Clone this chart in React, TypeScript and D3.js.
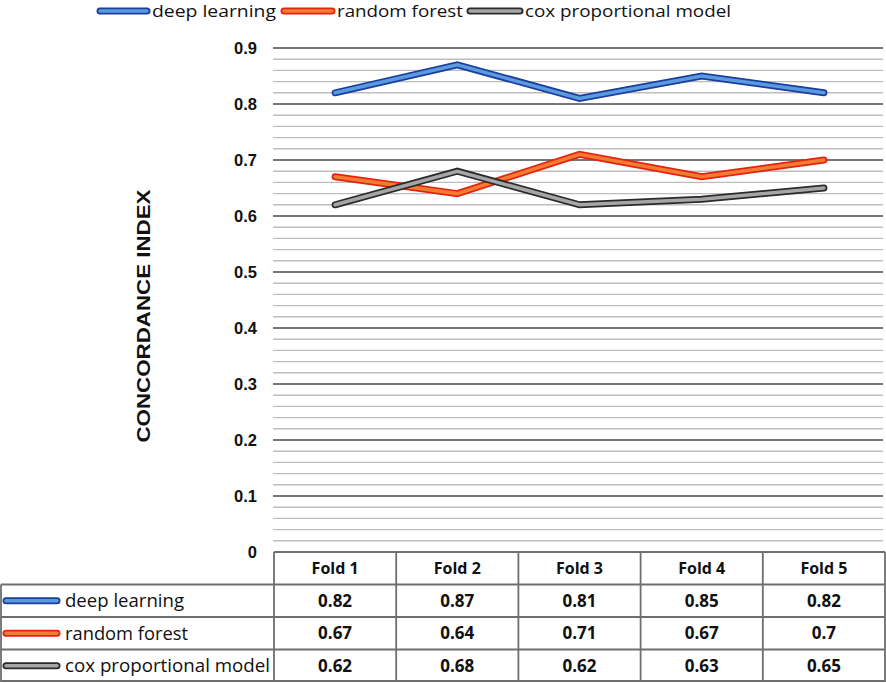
import * as d3 from 'd3';

// folds along the x axis / table columns
const folds = ['Fold 1', 'Fold 2', 'Fold 3', 'Fold 4', 'Fold 5'];
const seriesNames = ['deep learning', 'random forest', 'cox proportional model'];
const deepLearning = [0.82, 0.87, 0.81, 0.85, 0.82];
const randomForest = [0.67, 0.64, 0.71, 0.67, 0.7];
const coxModel = [0.62, 0.68, 0.62, 0.63, 0.65];
const yTicks = [0, 0.1, 0.2, 0.3, 0.4, 0.5, 0.6, 0.7, 0.8, 0.9];

const W = 886;
const H = 683;
const plotLeft = 274;
const plotRight = 885;
const zeroY = 552;
const topY = 48;
const rowH = 32.5;

const outer = ['#1b3d9e', '#e3230f', '#2b2b2b'];
const inner = ['#5a9be0', '#f47c32', '#a6a6a6'];
const seriesValues = [deepLearning, randomForest, coxModel];

const font = '"Liberation Sans", Arial, sans-serif';
const labelFont = '"Open Sans", "Liberation Sans", sans-serif';

const App = () => {
    const x = d3.scaleBand().domain(folds).range([plotLeft, plotRight]);
    const y = d3.scaleLinear().domain([0, 0.9]).range([zeroY, topY]);
    const cx = (f: string) => (x(f) || 0) + x.bandwidth() / 2;

    const gridVals = d3.range(1, 46).map(i => +(i * 0.02).toFixed(2));

    const line = d3.line<number>()
        .x((_, i) => cx(folds[i]))
        .y(d => y(d));

    // legend positions: swatch start, swatch end, text start, text width
    const legend = [
        { x0: 100, x1: 147, tx: 152, tw: 124 },
        { x0: 284, x1: 332, tx: 337, tw: 126 },
        { x0: 470, x1: 520, tx: 525, tw: 206 },
    ];
    // widths of the row labels in the table
    const rowLabelW = [119, 123, 205];

    const tableTop = zeroY;
    const tableBottom = tableTop + rowH * 4;

    const swatch = (i: number, x0: number, x1: number, yy: number) => (
        <g key={'sw' + i + yy}>
            <line x1={x0} x2={x1} y1={yy} y2={yy} stroke={outer[i]} strokeWidth={7} strokeLinecap="round" />
            <line x1={x0} x2={x1} y1={yy} y2={yy} stroke={inner[i]} strokeWidth={3.5} strokeLinecap="round" />
        </g>
    );

    return (
        <div style={{ position: 'absolute', left: 0, top: 0, background: '#fff' }}>
            <svg width={W} height={H} style={{ display: 'block' }}>
                <rect width={W} height={H} fill="#fff" />

                {/* gridlines */}
                {gridVals.map((v, i) => (
                    <line key={'g' + i} x1={plotLeft - 1} x2={883} y1={y(v)} y2={y(v)}
                        stroke={(i + 1) % 5 === 0 ? '#4a4a4a' : '#bdbdbd'}
                        strokeWidth={(i + 1) % 5 === 0 ? 1.6 : 1.4} />
                ))}

                {/* y tick labels */}
                {yTicks.map(t => (
                    <text key={'t' + t} x={257} y={y(t)} dy="0.35em" textAnchor="end"
                        fontFamily={font} fontWeight="bold" fontSize={16.5} fill="#111">
                        {t === 0 ? '0' : t.toFixed(1)}
                    </text>
                ))}

                {/* y axis title */}
                <text transform={`translate(144,316) rotate(-90)`} textAnchor="middle" dy="0.35em"
                    fontFamily={font} fontWeight="bold" fontSize={18} fill="#111"
                    textLength={253} lengthAdjust="spacingAndGlyphs">
                    CONCORDANCE INDEX
                </text>

                {/* series lines */}
                {seriesValues.map((vals, i) => (
                    <g key={'s' + i}>
                        <path d={line(vals) || ''} fill="none" stroke={outer[i]} strokeWidth={7}
                            strokeLinejoin="miter" strokeLinecap="round" />
                        <path d={line(vals) || ''} fill="none" stroke={inner[i]} strokeWidth={3.5}
                            strokeLinejoin="miter" strokeLinecap="round" />
                    </g>
                ))}

                {/* legend */}
                {legend.map((l, i) => (
                    <g key={'l' + i}>
                        {swatch(i, l.x0, l.x1, 11)}
                        <text x={l.tx} y={17} fontFamily={labelFont} fontSize={17} fill="#111"
                            textLength={l.tw} lengthAdjust="spacingAndGlyphs">
                            {seriesNames[i]}
                        </text>
                    </g>
                ))}

                {/* data table */}
                <g stroke="#6e6e6e" strokeWidth={1.8} fill="none">
                    <line x1={plotLeft} x2={W - 1} y1={tableTop} y2={tableTop} />
                    <line x1={1} x2={W - 1} y1={tableTop + rowH} y2={tableTop + rowH} />
                    <line x1={1} x2={W - 1} y1={tableTop + rowH * 2} y2={tableTop + rowH * 2} />
                    <line x1={1} x2={W - 1} y1={tableTop + rowH * 3} y2={tableTop + rowH * 3} />
                    <line x1={1} x2={W - 1} y1={tableBottom - 1} y2={tableBottom - 1} />
                    <line x1={1} x2={1} y1={tableTop + rowH} y2={tableBottom} />
                    {folds.map(f => (
                        <line key={'c' + f} x1={x(f) || 0} x2={x(f) || 0} y1={tableTop} y2={tableBottom} />
                    ))}
                    <line x1={W - 1} x2={W - 1} y1={tableTop} y2={tableBottom} />
                </g>

                {folds.map(f => (
                    <text key={'h' + f} x={cx(f)} y={tableTop + rowH / 2} dy="0.35em" textAnchor="middle"
                        fontFamily={labelFont} fontWeight="bold" fontSize={16} fill="#111">
                        {f}
                    </text>
                ))}

                {seriesNames.map((name, i) => {
                    const ry = tableTop + rowH * (i + 1) + rowH / 2;
                    return (
                        <g key={'r' + i}>
                            {swatch(i, 6, 57, ry)}
                            <text x={65} y={ry} dy="0.35em" fontFamily={labelFont} fontSize={18} fill="#111"
                                textLength={rowLabelW[i]} lengthAdjust="spacingAndGlyphs">
                                {name}
                            </text>
                            {seriesValues[i].map((v, j) => (
                                <text key={'v' + j} x={cx(folds[j])} y={ry} dy="0.35em" textAnchor="middle"
                                    fontFamily={labelFont} fontWeight="bold" fontSize={17} fill="#111">
                                    {String(v)}
                                </text>
                            ))}
                        </g>
                    );
                })}
            </svg>
        </div>
    );
};

export default App;
